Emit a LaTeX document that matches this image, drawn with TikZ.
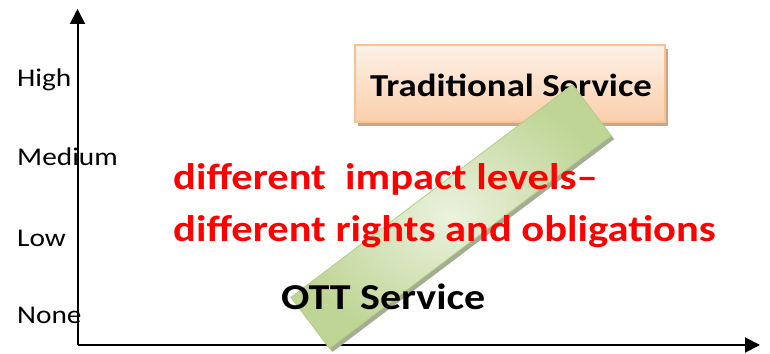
\documentclass[tikz,border=0pt]{standalone}
\usepackage{fontspec}
\setmainfont{Carlito}
\usepackage{graphicx}
\usetikzlibrary{arrows.meta}
\definecolor{peachtop}{HTML}{FDF1E7}
\definecolor{peachbot}{HTML}{FBCFAC}
\definecolor{peachdraw}{HTML}{F8C196}
\definecolor{peachshadow}{HTML}{C9A58A}
\definecolor{greenedge}{HTML}{BFD595}
\definecolor{greenmid}{HTML}{EBF2DF}
\definecolor{greendraw}{HTML}{B3CD8A}
\definecolor{greenshadow}{HTML}{A3AD92}
\newcommand\widetext[1]{\scalebox{1.15}[1]{#1}}
\begin{document}
\begin{tikzpicture}[x=1pt,y=1pt,
  axisline/.style={line width=2pt,-{Triangle[length=15pt,width=15pt]}},
  levellabel/.style={anchor=base west,inner sep=0pt,font=\fontsize{25.5}{30}\selectfont},
  redtext/.style={anchor=base west,inner sep=0pt,text=red,font=\bfseries\fontsize{37}{44}\selectfont},
  blacktext/.style={anchor=base west,inner sep=0pt,font=\bfseries\fontsize{36.5}{43}\selectfont},
  tradbox/.style={draw=peachdraw,line width=1.2pt,top color=peachtop,bottom color=peachbot,minimum width=310pt,minimum height=77pt,inner sep=0pt},
  shadowbox/.style={fill=peachshadow,minimum width=310pt,minimum height=77pt,inner sep=0pt},
  greenbar/.style={rotate=37.06,minimum width=353pt,minimum height=64pt,inner sep=0pt,draw=greendraw,line width=0.8pt,inner color=greenmid,outer color=greenedge},
  greenshade/.style={rotate=37.06,minimum width=353pt,minimum height=64pt,inner sep=0pt,fill=greenshadow}
]
\useasboundingbox (0,0) rectangle (770,353);
% axes
\coordinate (O) at (77.5,8);
\coordinate (ytip) at (77.5,344);
\coordinate (xtip) at (760,8);
\draw[axisline] (O) -- (ytip);
\draw[axisline] (O) -- (xtip);
% level labels
\node[levellabel] (high) at (17,266) {\widetext{High}};
\node[levellabel] (med) at (17,187) {\widetext{Medium}};
\node[levellabel] (low) at (17,106) {\widetext{Low}};
\node[levellabel] (none) at (17,29) {\widetext{None}};
% traditional service box
\node[shadowbox] (tradshadow) at (513,265) {};
\node[tradbox] (trad) at (510,269.5) {};
\node[anchor=base,inner sep=0pt,font=\bfseries\fontsize{32}{38}\selectfont] (tradtext) at (511,256) {\widetext{Traditional Service}};
% green bar
\node[greenshade] (barshadow) at (454,133) {};
\node[greenbar] (bar) at (451,136.5) {};
% texts
\node[redtext] (red1) at (173,163) {\widetext{different~~impact levels–}};
\node[redtext] (red2) at (173,111) {\widetext{different rights and obligations}};
\node[blacktext] (ott) at (281,43) {\widetext{OTT Service}};
\end{tikzpicture}
\end{document}
